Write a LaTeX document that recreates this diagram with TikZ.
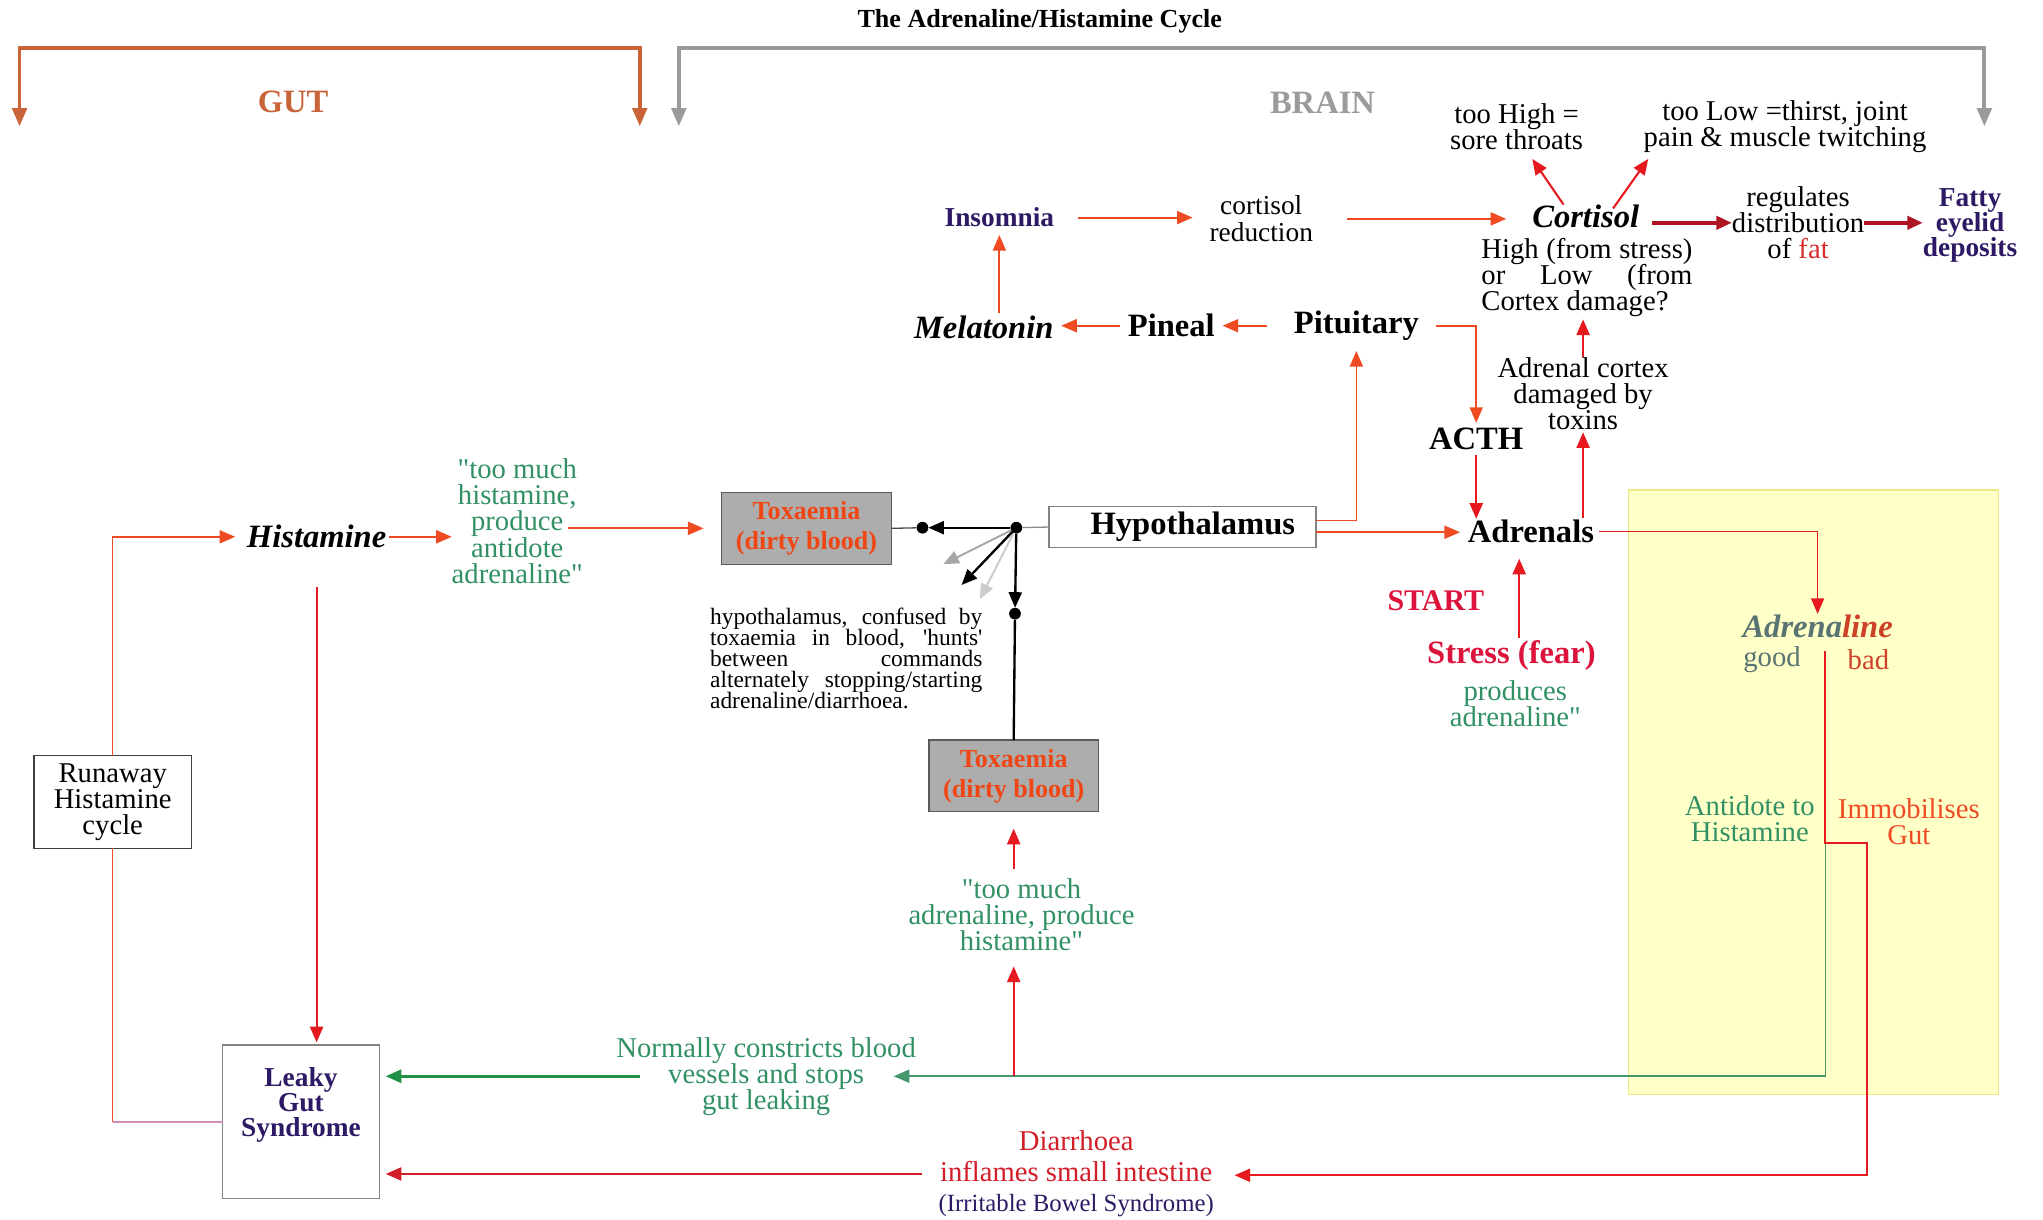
\documentclass[tikz,border=0pt]{standalone}
\usepackage{fontspec}
\setmainfont{Liberation Serif}
\usetikzlibrary{arrows.meta,calc}
\lineskiplimit=-100pt
\definecolor{gutc}{RGB}{200,100,55}
\definecolor{brainc}{RGB}{155,155,155}
\definecolor{ored}{RGB}{238,75,35}
\definecolor{pred}{RGB}{230,25,30}
\definecolor{dred}{RGB}{175,20,35}
\definecolor{dtred}{RGB}{210,30,40}
\definecolor{grn}{RGB}{50,145,100}
\definecolor{glin}{RGB}{70,150,110}
\definecolor{dgrn}{RGB}{30,145,70}
\definecolor{purp}{RGB}{45,25,100}
\definecolor{crim}{RGB}{220,20,60}
\definecolor{gteal}{RGB}{90,115,115}
\definecolor{rbrown}{RGB}{205,65,40}
\definecolor{fatc}{RGB}{215,45,45}
\definecolor{toxfill}{RGB}{173,173,173}
\definecolor{toxborder}{RGB}{90,90,90}
\definecolor{toxtxt}{RGB}{240,70,20}
\definecolor{yfill}{RGB}{255,255,200}
\definecolor{yline}{RGB}{240,232,130}
\definecolor{pinkl}{RGB}{210,140,190}
\definecolor{boxgray}{RGB}{130,130,130}
\begin{document}
\begin{tikzpicture}[x=1pt,y=-1pt,
  every node/.style={inner sep=0pt,outer sep=0pt,align=center},
  >={Triangle[length=12pt,width=10pt]},
  lab/.style={font=\fontsize{22}{20}\selectfont},
  big/.style={font=\fontsize{25}{27}\selectfont\bfseries},
  bigit/.style={font=\fontsize{25}{27}\selectfont\bfseries\itshape},
  oar/.style={->,draw=ored,line width=1.6pt},
  par/.style={->,draw=pred,line width=1.6pt},
  dar/.style={->,draw=dred,line width=3pt},
  gar/.style={->,draw=dgrn,line width=2pt},
  bar/.style={->,draw=black,line width=1.8pt},
  tox/.style={draw=toxborder,fill=toxfill,line width=1pt,minimum width=130pt,minimum height=55pt,
              font=\fontsize{20}{23}\selectfont\bfseries,text=toxtxt},
  dot/.style={circle,fill=black,minimum size=9pt},
  bracket/.style={line width=3pt,{Triangle[length=14pt,width=11pt]}-{Triangle[length=14pt,width=11pt]}}
]
\useasboundingbox (0,0) rectangle (1568,936);
\fill[white] (0,0) rectangle (1568,936);

% title and brackets
\node[font=\fontsize{20}{22}\selectfont\bfseries] (title) at (798,16) {The Adrenaline/Histamine Cycle};
\node[font=\fontsize{25}{28}\selectfont\bfseries,text=gutc] (gut) at (225,78) {GUT};
\node[font=\fontsize{25}{28}\selectfont\bfseries,text=brainc] (brain) at (1015,79) {BRAIN};
\coordinate (gutL) at (15,97); \coordinate (gutTL) at (15,37); \coordinate (gutR) at (491,97);
\coordinate (brL) at (521,97); \coordinate (brTL) at (521,37); \coordinate (brR) at (1523,97);
\draw[bracket,draw=gutc] (gutL) -- (gutTL) -| (gutR);
\draw[bracket,draw=brainc] (brL) -- (brTL) -| (brR);

% yellow panel
\node[draw=yline,fill=yfill,line width=1pt,minimum width=284pt,minimum height=464pt] (panel) at (1392,608) {};

% brain nodes
\node[lab] (tooHigh) at (1164,97) {too High =\\sore throats};
\node[lab] (tooLow) at (1370,97) {too Low =thirst, joint\\pain \& muscle twitching};
\node[font=\fontsize{21}{22}\selectfont\bfseries,text=purp] (insomnia) at (767,167) {Insomnia};
\node[font=\fontsize{21}{21}\selectfont] (cortred) at (968,168) {cortisol\\reduction};
\node[bigit] (cortisol) at (1217,166) {Cortisol};
\node[lab] (regulates) at (1380,171) {regulates\\distribution\\of {\color{fatc}fat}};
\node[font=\fontsize{21}{19.5}\selectfont\bfseries,text=purp] (fatty) at (1512,173) {Fatty\\eyelid\\deposits};
\node[lab,align=left,anchor=west] (highlow) at (1137,213) {\makebox[162pt][s]{High (from stress)}\\\makebox[162pt][s]{or Low (from}\\Cortex damage?};
\node[bigit] (melatonin) at (755,251) {Melatonin};
\node[big] (pineal) at (899,250) {Pineal};
\node[big] (pituitary) at (1041,250) {Pituitary};
\node[big] (acth) at (1133,337) {ACTH};
\node[lab] (adcortex) at (1215,302) {Adrenal cortex\\damaged by\\toxins};
\node[draw=boxgray,line width=1pt,minimum width=205pt,minimum height=31pt,fill=white,
      label={[big,xshift=8pt]center:Hypothalamus}] (hypo) at (907.5,404.5) {};
\node[big] (adrenals) at (1175,408) {Adrenals};
\node[font=\fontsize{23}{25}\selectfont\bfseries,text=crim] (start) at (1102,461) {START};
\node[big,text=crim] (stress) at (1160,503) {Stress (fear)};
\node[lab,text=grn] (produces) at (1163,540) {produces\\adrenaline\textquotedbl};

% adrenaline panel content
\node[bigit] (adrenaline) at (1395,481) {{\color{gteal}Adrena}{\color{rbrown}line}};
\node[lab,text=gteal] (good) at (1360,506) {good};
\node[lab,text=rbrown] (bad) at (1434,506) {bad};
\node[lab,text=grn] (antidote) at (1343,628) {Antidote to\\Histamine};
\node[lab,text=ored] (immob) at (1465,631) {Immobilises\\Gut};

% toxaemia and hub
\node[tox] (tox1) at (619,405.5) {Toxaemia\\(dirty blood)};
\node[tox] (tox2) at (778,595.5) {Toxaemia\\(dirty blood)};
\node[font=\fontsize{18}{16}\selectfont,align=left,anchor=north west] (hunts) at (545,467)
 {\makebox[209pt][s]{hypothalamus, confused by}\\
  \makebox[209pt][s]{toxaemia in blood, \textquotesingle hunts\textquotesingle}\\
  \makebox[209pt][s]{between commands}\\
  \makebox[209pt][s]{alternately stopping/starting}\\
  adrenaline/diarrhoea.};
\node[dot] (hub) at (780,405) {};
\node[dot] (d1) at (708,405) {};
\node[dot] (d2) at (779,471) {};
\coordinate (f1) at (724,433);
\coordinate (f2) at (738,449);
\coordinate (f3) at (752,460);

% gut side
\node[bigit] (histamine) at (243,412) {Histamine};
\node[lab,text=grn] (tmH) at (397,400) {\textquotedbl too much\\histamine,\\produce\\antidote\\adrenaline\textquotedbl};
\node[lab,draw=black!75,line width=1pt,minimum width=121pt,minimum height=71pt] (runaway) at (86.5,615.5) {Runaway\\Histamine\\cycle};
\node[draw=boxgray,line width=1pt,minimum width=120pt,minimum height=118pt,
      label={[font=\fontsize{21}{19.5}\selectfont\bfseries,text=purp,yshift=13pt]center:{Leaky\\Gut\\Syndrome}}] (leaky) at (231,861) {};
\node[lab,text=grn] (tmA) at (784,702) {\textquotedbl too much\\adrenaline, produce\\histamine\textquotedbl};
\node[lab,text=grn] (normally) at (588,826) {Normally constricts blood\\vessels and stops\\gut leaking};
\node[font=\fontsize{22}{23.5}\selectfont] (diarrhoea) at (826,901)
 {{\color{dtred}Diarrhoea}\\{\color{dtred}inflames small intestine}\\{\color{purp}\fontsize{19}{20}\selectfont (Irritable Bowel Syndrome)}};

% connectors: brain
\draw[oar,shorten <=18pt,shorten >=13pt] (insomnia.east) -- (insomnia.east -| cortred.west);
\draw[oar,shorten <=26pt,shorten >=20pt] (cortred.east) -- (cortred.east -| cortisol.west);
\draw[dar,shorten <=10pt] (cortisol.east |- regulates.west) -- (regulates.west);
\draw[dar] (regulates.east) -- (regulates.east -| fatty.west);
\draw[par] ($(cortisol)+(-17,-9)$) -- ($(tooHigh)+(12,25)$);
\draw[par] ($(cortisol)+(21,-6)$) -- ($(tooLow)+(-105,25)$);
\draw[oar,shorten <=6pt,shorten >=6pt] (pineal.west) -- (pineal.west -| melatonin.east);
\draw[oar,line width=1.2pt,shorten <=21pt,shorten >=6pt] (pituitary.west) -- (pituitary.west -| pineal.east);
\draw[oar,shorten <=2pt,shorten >=6pt] (melatonin.north -| insomnia.south) -- (insomnia.south);
\draw[oar,line width=1.2pt,shorten <=13pt,shorten >=4pt] (pituitary.east) -| (acth.north);
\draw[oar,line width=1.2pt,shorten >=8pt] ($(hypo.east)+(0,-5)$) -| (pituitary.south);
\coordinate (hx) at ($(hypo.east)+(0,4)$);
\draw[oar,line width=1.2pt,shorten >=6pt] (hx) -- (hx -| adrenals.west);
\draw[par,shorten <=4pt,shorten >=1pt] (acth.south) -- (acth.south |- adrenals.north);
\draw[par,shorten <=2pt,shorten >=2pt] (adrenals.north -| adcortex.south) -- (adcortex.south);
\draw[par,shorten >=2pt] (adcortex.north) -- (adcortex.north |- highlow.south);
\coordinate (st) at ($(stress.north)+(6,0)$);
\draw[par,shorten <=2pt,shorten >=12pt] (st) -- (st |- adrenals.south);
\draw[par,line width=1.2pt,shorten <=4pt,shorten >=1pt] (adrenals.east) -| (adrenaline.north);

% adrenaline outputs
\coordinate (badtop) at (1401,500);
\coordinate (split) at (1401,647);
\coordinate (bcorner) at (1433,902);
\draw[->,draw=glin,line width=1.3pt] (split) |- ($(normally.east)+(-17,0)$);
\draw[par,shorten >=16pt] (badtop) -- (split) -| (bcorner) -- (bcorner -| diarrhoea.east);
\draw[par,shorten >=12pt] (tox2.south |- normally.east) -- (tox2.south |- tmA.south);
\draw[par,shorten <=7pt,shorten >=13pt] (tmA.north -| tox2.south) -- (tox2.south);

% hub
\draw[black,line width=1.8pt] (tox2.north) -- (d2);
\draw[black!70,line width=1pt] (d1) -- (tox1.east);
\draw[black!45,line width=1pt] (hub) -- (hypo.west);
\draw[bar] (hub) -- (d2);
\draw[bar] (hub) -- (d1);
\draw[->,draw=black!35,line width=1.5pt] (hub) -- (f1);
\draw[->,draw=black!20,line width=1.5pt] (hub) -- (f3);
\draw[bar] (hub) -- (f2);

% gut connectors
\draw[gar,shorten >=5pt] ($(normally.west)+(18,0)$) -- (normally.west -| leaky.east);
\draw[->,draw=dtred,line width=1.6pt,shorten <=13pt,shorten >=5pt] (diarrhoea.west) -- (diarrhoea.west -| leaky.east);
\draw[oar,shorten <=2pt] (histamine.east) -- (histamine.east -| tmH.west);
\draw[oar,shorten >=14pt] ($(tmH.east |- tox1.west)+(-11,0)$) -- (tox1.west);
\draw[oar,line width=1.2pt,shorten >=9pt] (runaway.north) |- (histamine.west);
\draw[ored,line width=1.2pt] (runaway.south) -- (runaway.south |- leaky.west);
\draw[pinkl,line width=1.2pt] (runaway.south |- leaky.west) -- (leaky.west);
\draw[par,shorten <=30pt,shorten >=2pt] (histamine.south) -- (histamine.south |- leaky.north);
\end{tikzpicture}
\end{document}
